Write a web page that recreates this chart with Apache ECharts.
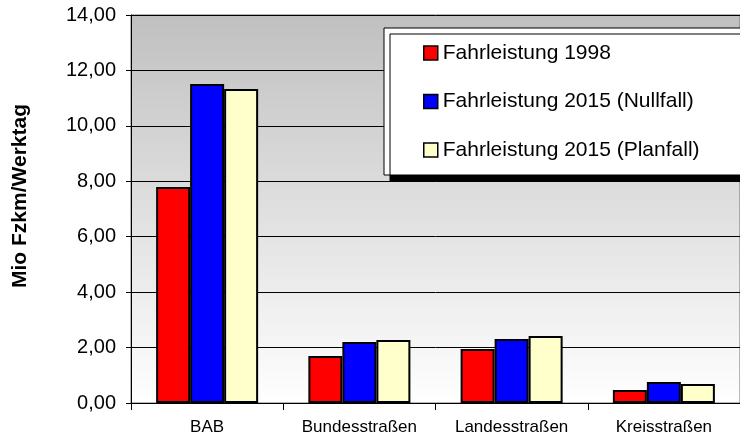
<!DOCTYPE html>
<html>
<head>
<meta charset="utf-8">
<script src="https://cdn.jsdelivr.net/npm/echarts@6/dist/echarts.min.js"></script>
<style>
  html, body { margin: 0; padding: 0; background: #ffffff; }
  #chart { width: 740px; height: 440px; }
</style>
</head>
<body>
<div id="chart"></div>
<script>
// road categories and daily vehicle-km (millions)
var categories = ['BAB', 'Bundesstraßen', 'Landesstraßen', 'Kreisstraßen'];
var fl1998 = [7.79, 1.70, 1.95, 0.47];
var fl2015Null = [11.51, 2.20, 2.31, 0.76];
var fl2015Plan = [11.33, 2.27, 2.42, 0.69];
var seriesNames = ['Fahrleistung 1998', 'Fahrleistung 2015 (Nullfall)', 'Fahrleistung 2015 (Planfall)'];
var colors = ['#ff0000', '#0000ff', '#ffffcc'];

var chart = echarts.init(document.getElementById('chart'), null, { renderer: 'canvas' });

function bar(name, data, color) {
  return {
    name: name,
    type: 'bar',
    data: data,
    barGap: '0%',
    barCategoryGap: '33%',
    itemStyle: { color: color, borderColor: '#000', borderWidth: 2 }
  };
}

var option = {
  backgroundColor: '#ffffff',
  animation: false,
  textStyle: { fontFamily: 'Liberation Sans, Arial, sans-serif' },
  grid: {
    left: 131,
    right: 0,
    top: 15,
    bottom: 37,
    show: true,
    borderColor: '#707070',
    borderWidth: 1,
    backgroundColor: new echarts.graphic.LinearGradient(0, 0, 0, 1, [
      { offset: 0, color: '#c0c0c0' },
      { offset: 1, color: '#ffffff' }
    ])
  },
  legend: {
    orient: 'vertical',
    left: 384,
    top: 28,
    data: seriesNames,
    icon: 'rect',
    itemWidth: 14,
    itemHeight: 14,
    itemGap: 26.5,
    padding: [14, 60, 14, 39],
    backgroundColor: '#ffffff',
    borderColor: '#000',
    borderWidth: 1,
    shadowColor: '#000',
    shadowBlur: 0,
    shadowOffsetX: 6,
    shadowOffsetY: 6,
    itemStyle: { borderColor: '#000', borderWidth: 1.5 },
    textStyle: { fontSize: 21, lineHeight: 22, color: '#000', fontFamily: 'Liberation Sans, Arial, sans-serif' }
  },
  xAxis: {
    type: 'category',
    data: categories,
    axisLine: { lineStyle: { color: '#000', width: 1 } },
    axisTick: { show: true, interval: 0, length: 7, lineStyle: { color: '#000' } },
    axisLabel: { color: '#000', fontSize: 17, margin: 16, interval: 0 }
  },
  yAxis: {
    type: 'value',
    min: 0,
    max: 14,
    interval: 2,
    name: 'Mio Fzkm/Werktag',
    nameLocation: 'middle',
    nameGap: 100,
    nameTextStyle: { fontSize: 21, fontWeight: 'bold', color: '#000', padding: [0, 0, 0, 26] },
    axisLine: { show: true, lineStyle: { color: '#000', width: 1 } },
    axisTick: { show: true, length: 5, lineStyle: { color: '#000' } },
    splitLine: { lineStyle: { color: '#000', width: 1 } },
    axisLabel: {
      color: '#000',
      fontSize: 20,
      margin: 15,
      formatter: function (v) { return v.toFixed(2).replace('.', ','); }
    }
  },
  series: [
    bar(seriesNames[0], fl1998, colors[0]),
    bar(seriesNames[1], fl2015Null, colors[1]),
    bar(seriesNames[2], fl2015Plan, colors[2])
  ]
};

chart.setOption(option);
</script>
</body>
</html>
